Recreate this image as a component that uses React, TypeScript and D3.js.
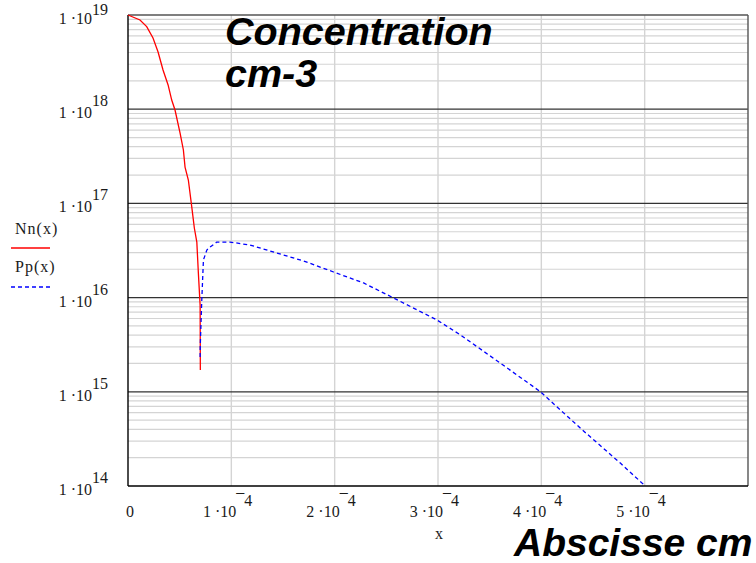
import React from "react";
import * as d3 from "d3";

// Nn(x) — electron concentration (cm-3), x in cm
const nnX = [0, 0.116e-4, 0.181e-4, 0.242e-4, 0.291e-4, 0.339e-4, 0.388e-4, 0.423e-4, 0.455e-4, 0.504e-4, 0.536e-4, 0.552e-4, 0.584e-4, 0.617e-4, 0.642e-4, 0.666e-4, 0.681e-4, 0.698e-4, 0.700e-4];
const nnY = [1.0e19, 8.85e18, 7.52e18, 5.7e18, 4.05e18, 2.61e18, 1.81e18, 1.25e18, 9.8e17, 5.58e17, 3.69e17, 2.43e17, 1.77e17, 9.2e16, 5.48e16, 3.89e16, 1.82e16, 8.3e15, 1.7e15];

// Pp(x) — hole concentration (cm-3)
const ppX = [0.698e-4, 0.699e-4, 0.714e-4, 0.730e-4, 0.763e-4, 0.795e-4, 0.859e-4, 0.988e-4, 1.182e-4, 1.441e-4, 1.699e-4, 1.989e-4, 2.28e-4, 2.571e-4, 2.991e-4, 3.217e-4, 3.605e-4, 3.992e-4, 4.38e-4, 4.767e-4, 4.993e-4];
const ppY = [2.34e15, 2.99e15, 9.4e15, 2.51e16, 3.2e16, 3.44e16, 3.89e16, 3.89e16, 3.61e16, 2.97e16, 2.45e16, 1.87e16, 1.43e16, 9.9e15, 5.78e15, 4.01e15, 2.01e15, 1.0e15, 4.09e14, 1.74e14, 1.03e14];

const xTicks = [0, 1e-4, 2e-4, 3e-4, 4e-4, 5e-4];
const xTickMant = ["0", "1", "2", "3", "4", "5"];
const yDecades = [14, 15, 16, 17, 18, 19];

const legendNames = ["Nn(x)", "Pp(x)"];

export default function App() {
  const left = 128, right = 748, top = 15, bottom = 486;
  const x = d3.scaleLinear().domain([0, 6e-4]).range([left, right]);
  const y = d3.scaleLog().domain([1e14, 1e19]).range([bottom, top]);

  const line = d3
    .line<[number, number]>()
    .x((d) => x(d[0]))
    .y((d) => y(d[1]));

  const nnData = nnX.map((v, i) => [v, nnY[i]] as [number, number]);
  const ppData = ppX.map((v, i) => [v, ppY[i]] as [number, number]);

  const minor: number[] = [];
  for (let e = 14; e < 19; e++) {
    for (let m = 2; m <= 9; m++) minor.push(m * Math.pow(10, e));
  }

  const serif = "'Liberation Serif', 'Times New Roman', serif";
  const sans = "'Liberation Sans', Arial, sans-serif";
  const ink = "#1a1a1a";

  return (
    <svg
      width={756}
      height={563}
      style={{ position: "absolute", left: 0, top: 0, background: "#fff" }}
    >
      {/* minor horizontal grid */}
      {minor.map((v, i) => (
        <line key={"mh" + i} x1={left} x2={right} y1={y(v)} y2={y(v)} stroke="#d4d4d4" strokeWidth={1.2} />
      ))}
      {/* vertical grid */}
      {xTicks.slice(1).map((v, i) => (
        <line key={"vg" + i} x1={x(v)} x2={x(v)} y1={top} y2={bottom} stroke="#d4d4d4" strokeWidth={1.4} />
      ))}
      {/* major decade lines */}
      {yDecades.slice(1, -1).map((e, i) => (
        <line key={"mj" + i} x1={left} x2={right} y1={y(Math.pow(10, e))} y2={y(Math.pow(10, e))} stroke="#333" strokeWidth={1.3} />
      ))}
      {/* frame */}
      <line x1={left} x2={right} y1={top} y2={top} stroke="#555" strokeWidth={1.4} />
      <line x1={right} x2={right} y1={top} y2={bottom} stroke="#555" strokeWidth={1.4} />
      <line x1={left} x2={left} y1={top} y2={bottom} stroke="#000" strokeWidth={1.4} />
      <line x1={left} x2={right} y1={bottom} y2={bottom} stroke="#000" strokeWidth={1.4} />

      {/* curves */}
      <path d={line(nnData) || ""} fill="none" stroke="#ff0000" strokeWidth={1.3} />
      <path d={line(ppData) || ""} fill="none" stroke="#0000ff" strokeWidth={1.3} strokeDasharray="4,3" />

      {/* y labels */}
      {yDecades.map((e) => {
        const yy = y(Math.pow(10, e));
        return (
          <g key={"yl" + e}>
            <text x={92} y={yy + 9} fontFamily={serif} fontSize={16} fill={ink} textAnchor="end">
              1 ·10
            </text>
            <text x={92} y={Math.max(yy - 3, 15)} fontFamily={serif} fontSize={16} fill={ink} textAnchor="start">
              {String(e)}
            </text>
          </g>
        );
      })}

      {/* x labels */}
      {xTicks.map((v, i) => {
        const xx = x(v);
        if (i === 0)
          return (
            <text key="xl0" x={xx + 2} y={517} fontFamily={serif} fontSize={16} fill={ink} textAnchor="middle">
              0
            </text>
          );
        return (
          <g key={"xl" + i}>
            <text x={xx + 5} y={517} fontFamily={serif} fontSize={16} fill={ink} textAnchor="end">
              {xTickMant[i] + " ·10"}
            </text>
            <text x={xx + 5} y={506} fontFamily={serif} fontSize={16} fill={ink} textAnchor="start">
              {"¯4"}
            </text>
          </g>
        );
      })}
      <text x={439} y={539} fontFamily={serif} fontSize={16} fill={ink} textAnchor="middle">
        x
      </text>

      {/* legend */}
      <text x={15} y={234} fontFamily={serif} fontSize={16} fill={ink} letterSpacing={1}>
        {legendNames[0]}
      </text>
      <line x1={11} x2={50} y1={248} y2={248} stroke="#ff0000" strokeWidth={1.3} />
      <text x={15} y={272} fontFamily={serif} fontSize={16} fill={ink} letterSpacing={1}>
        {legendNames[1]}
      </text>
      <line x1={11} x2={50} y1={287} y2={287} stroke="#0000ff" strokeWidth={1.3} strokeDasharray="4,3" />

      {/* titles */}
      <text x={225} y={45} fontFamily={sans} fontSize={39.5} fontWeight="bold" fontStyle="italic" fill="#000">
        Concentration
      </text>
      <text x={225} y={87} fontFamily={sans} fontSize={39.5} fontWeight="bold" fontStyle="italic" fill="#000">
        cm-3
      </text>
      <text x={514} y={556} fontFamily={sans} fontSize={39} fontWeight="bold" fontStyle="italic" fill="#000">
        Abscisse cm
      </text>
    </svg>
  );
}
